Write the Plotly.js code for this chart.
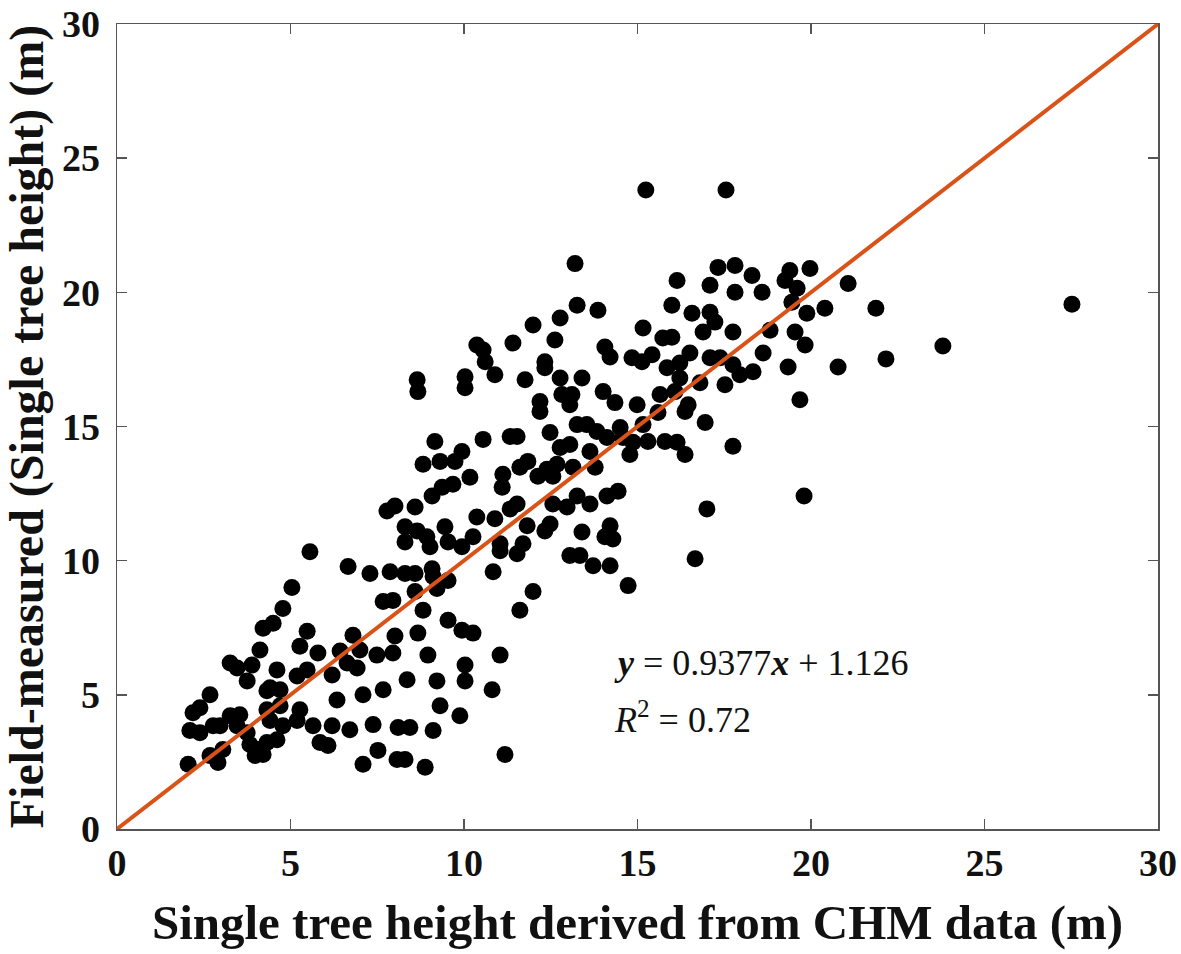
<!DOCTYPE html>
<html>
<head>
<meta charset="utf-8">
<script src="https://cdn.plot.ly/plotly-3.0.1.min.js"></script>
<style>html,body{margin:0;padding:0;background:#fff;}#chart{width:1181px;height:954px;}</style>
</head>
<body>
<div id="chart"></div>
<script>
// CHM-derived height (x) vs field-measured height (y), grouped by area of the plot
const chmLow   = [6.66,7.29,5.04,7.67,4.78,4.50,4.21,5.48,6.80,4.12,5.27,5.79,6.43,7.00,7.49,3.26,3.46,3.89,4.61,6.63,6.92,3.75,4.41,5.19,5.48,6.20,4.32,4.70,6.34,7.09,7.67,2.68,2.39,2.19,3.26,3.54,4.32,4.70,5.27,2.10,2.39,2.77,2.97,3.46,3.75,4.41,4.78,5.19,5.65,6.20,6.71,7.38,3.83,4.06,4.32,4.61,3.05,5.85,6.08,3.98,4.21,2.68,2.91,2.05,7.52,7.09];
const fieldLow = [9.78,9.52,9.00,8.48,8.22,7.67,7.48,7.37,7.22,6.67,6.81,6.56,6.63,6.67,6.48,6.19,6.00,6.11,5.93,6.19,6.00,5.52,5.26,5.70,5.93,5.74,5.15,5.19,4.81,5.00,5.19,5.00,4.52,4.33,4.22,4.26,4.44,4.59,4.44,3.67,3.59,3.85,3.85,3.85,3.59,4.04,3.85,4.04,3.85,3.85,3.70,3.89,3.15,2.96,3.22,3.33,2.96,3.22,3.11,2.74,2.78,2.74,2.48,2.41,2.93,2.41];

const chmMidLeft   = [7.78,5.56];
const fieldMidLeft = [11.85,10.33];

const chmMid   = [8.59,8.01,9.08,10.37,10.89,11.33,11.53,12.56,12.97,13.26,13.63,8.30,8.30,8.65,8.93,9.02,9.45,9.54,9.94,10.26,11.04,11.04,11.53,11.70,11.82,12.33,12.48,13.40,13.05,13.34,13.72,7.87,8.30,8.59,9.08,9.11,9.54,9.22,8.59,10.84,11.99,11.61,7.95,8.82,9.54,9.94,10.26,8.67,8.01,7.95,8.96,10.03,10.03,11.04,8.36,9.22,10.81,9.31,9.88,8.10,8.44,9.11,11.18,8.07,8.30,8.88];
const fieldMid = [12.00,12.04,12.41,11.63,11.56,11.93,12.11,12.11,12.00,12.41,12.11,11.26,10.70,11.11,10.89,10.52,11.26,10.70,10.52,10.89,10.63,10.37,10.26,10.63,11.30,11.11,11.37,11.07,10.19,10.19,9.81,9.59,9.52,9.52,9.70,9.41,9.26,8.96,8.85,9.59,8.85,8.15,8.52,8.15,7.78,7.41,7.30,7.30,7.19,6.56,6.48,6.11,5.52,6.48,5.56,5.52,5.19,4.59,4.22,3.78,3.78,3.67,2.78,2.59,2.59,2.30];

const chmUpperLeft   = [10.37,8.65,8.67,10.03,10.03,9.16,9.94,8.82,9.31,9.74,10.17,9.37,9.68];
const fieldUpperLeft = [18.04,16.74,16.30,16.85,16.44,14.44,14.07,13.59,13.70,13.70,13.11,12.74,12.85];

const chmUpperMid   = [13.20,13.26,13.86,12.77,11.99,11.41,12.62,10.55,10.61,12.33,12.33,10.89,11.76,12.77,13.40,12.82,13.11,12.19,12.19,13.05,13.26,13.54,13.83,11.33,11.53,12.48,10.55,12.77,13.05,13.63,11.12,11.61,11.84,12.13,12.68,13.14,13.78,12.56,12.39,11.10];
const fieldUpperMid = [21.07,19.52,19.33,19.04,18.78,18.11,18.22,17.85,17.41,17.41,17.19,16.93,16.74,16.81,16.81,16.19,16.19,15.93,15.56,15.81,15.07,15.07,14.81,14.63,14.63,14.78,14.52,14.22,14.33,14.07,13.22,13.48,13.70,13.15,13.59,13.48,13.48,13.15,13.41,12.74];

const chmHigh   = [15.24,17.55,17.32,17.81,18.30,19.39,19.97,16.14,17.09,17.81,18.59,19.25,19.60,21.07,19.45,19.88,20.40,15.99,16.57,17.09,17.23,17.75,15.16,15.73,15.99,16.89,18.82,19.54,19.83,18.62,19.34,20.78,19.68,14.06,14.21,14.84,15.13,15.42,15.85,16.22,16.51,17.09,17.38,17.75,17.95,18.33,17.52,16.22,16.80,15.65,16.08,14.01,14.35,14.99,15.59,16.37,16.46,16.95,17.75,15.79,16.14,16.37,15.16,14.50,14.58,14.87,15.30,14.12,14.78];
const fieldHigh = [23.81,23.81,20.93,21.00,20.63,20.81,20.89,20.44,20.26,20.00,20.00,20.44,20.15,20.33,19.63,19.22,19.41,19.52,19.22,19.26,18.89,18.52,18.67,18.30,18.33,18.52,18.59,18.52,18.04,17.74,17.22,17.22,16.00,17.96,17.59,17.56,17.41,17.67,17.19,17.37,17.74,17.56,17.56,17.30,16.93,17.04,16.56,16.81,16.63,16.19,16.30,16.30,15.89,15.81,15.52,15.56,15.81,15.15,14.26,14.44,14.41,13.96,15.07,14.96,14.59,14.41,14.44,14.59,13.96];

const chmLowRight   = [17.00,16.66,14.44,14.12,14.21,14.06,14.29,14.21,14.73];
const fieldLowRight = [11.93,10.07,12.59,12.41,11.30,10.89,10.81,9.81,9.07];

const chmOutliers   = [27.52,23.80,22.16,21.87,19.80];
const fieldOutliers = [19.56,18.00,17.52,19.41,12.41];

const refLineX = [0, 30];
const refLineY = [0, 30];
const tickValues = [0, 5, 10, 15, 20, 25, 30];

const xTitle = 'Single tree height derived from CHM data (m)';
const yTitle = 'Field-measured (Single tree height) (m)';
const eqText = '<b><i>y</i></b> = 0.9377<b><i>x</i></b> + 1.126';
const r2Text = '<i>R</i><sup>2</sup> = 0.72';

const chmAll = [].concat(chmLow, chmMidLeft, chmMid, chmUpperLeft, chmUpperMid, chmHigh, chmLowRight, chmOutliers);
const fieldAll = [].concat(fieldLow, fieldMidLeft, fieldMid, fieldUpperLeft, fieldUpperMid, fieldHigh, fieldLowRight, fieldOutliers);

const serif = 'Liberation Serif, Times New Roman, serif';

const traces = [
  {x: chmAll, y: fieldAll, type: 'scatter', mode: 'markers',
   marker: {color: '#000000', size: 17, line: {width: 0}}, hoverinfo: 'x+y'},
  {x: refLineX, y: refLineY, type: 'scatter', mode: 'lines',
   line: {color: '#D95319', width: 4}, hoverinfo: 'skip'}
];

const axisCommon = {
  range: [0, 30], tickvals: tickValues, ticks: 'inside', ticklen: 10, tickwidth: 1.5,
  tickcolor: '#555', showline: true, linecolor: '#555', linewidth: 1.5, mirror: 'ticks',
  showgrid: false, zeroline: false, ticklabeloverflow: 'allow',
  tickfont: {family: serif, size: 38, color: '#111', weight: 700}
};

const layout = {
  width: 1181, height: 954,
  margin: {l: 117, r: 23, t: 24, b: 125, pad: 0},
  paper_bgcolor: '#fff', plot_bgcolor: '#fff',
  showlegend: false,
  xaxis: Object.assign({}, axisCommon, {
    ticklabelstandoff: 0,
    title: {text: xTitle, font: {family: serif, size: 49, color: '#111', weight: 700}, standoff: 21}
  }),
  yaxis: Object.assign({}, axisCommon, {
    ticklabelstandoff: 8,
    title: {text: yTitle, font: {family: serif, size: 48, color: '#111', weight: 700}, standoff: 4}
  }),
  annotations: [
    {x: 14.26, y: 6.19, xref: 'x', yref: 'y', xanchor: 'left', yanchor: 'middle', showarrow: false,
     text: eqText, font: {family: serif, size: 36, color: '#111'}},
    {x: 14.26, y: 4.15, xref: 'x', yref: 'y', xanchor: 'left', yanchor: 'middle', showarrow: false,
     text: r2Text, font: {family: serif, size: 36, color: '#111'}}
  ]
};

Plotly.newPlot('chart', traces, layout, {displayModeBar: false, staticPlot: true});
</script>
</body>
</html>
